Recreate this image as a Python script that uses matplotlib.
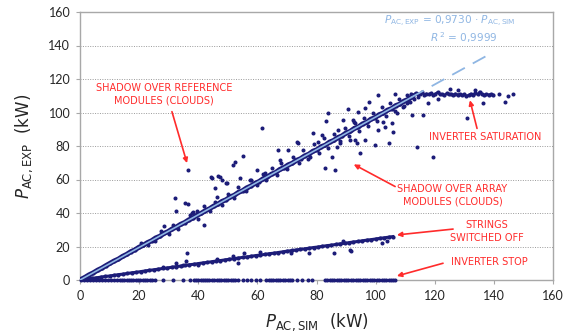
import matplotlib.pyplot as plt

plt.rcParams['mathtext.fontset'] = 'dejavusans'

# main band of points (normal operation), y ~ 0.973 x
main_pts = [(0.5, 0.5), (1.8, 1.7), (3.0, 3.0), (4.5, 4.3), (6.0, 5.9), (7.4, 7.1), (8.8, 8.6),
            (10.2, 10.0), (11.5, 11.3), (13.0, 12.5), (14.4, 14.1), (15.8, 15.3), (17.2, 16.9),
            (18.6, 18.0), (20.0, 19.6), (21.4, 20.7), (22.8, 22.3), (24.2, 23.4), (25.6, 25.1),
            (27.0, 26.1), (28.4, 27.8), (29.8, 28.9), (31.2, 30.5), (32.6, 31.6), (34.0, 33.2),
            (35.4, 34.3), (36.8, 35.9), (38.2, 37.0), (39.6, 38.7), (41.0, 39.8), (42.4, 41.4),
            (43.8, 42.5), (45.2, 44.1), (46.6, 45.2), (48.0, 46.9), (49.4, 47.9), (50.8, 49.6),
            (52.2, 50.6), (53.6, 52.3), (55.0, 53.3), (56.4, 55.0), (57.8, 56.1), (59.2, 57.7),
            (60.6, 58.8), (62.0, 60.5), (63.4, 61.5), (64.8, 63.2), (66.2, 64.2), (67.6, 66.0),
            (69.0, 67.0), (70.4, 68.7), (71.8, 69.7), (73.2, 71.4), (74.6, 72.4), (76.0, 74.1),
            (77.4, 75.1), (78.8, 76.9), (80.2, 77.8), (81.6, 79.6), (83.0, 80.5), (84.4, 82.3),
            (85.8, 83.3), (87.2, 85.0), (88.6, 86.0), (90.0, 87.8), (91.4, 88.7), (92.8, 90.5),
            (94.2, 91.4), (95.6, 93.2), (97.0, 94.1), (98.4, 96.0), (99.8, 96.9), (101.2, 98.7),
            (102.6, 99.6), (104.0, 101.4), (105.4, 102.3), (106.8, 104.1), (108.2, 105.0),
            (109.6, 106.8), (111.0, 107.8), (112.4, 109.5)]

# inverter saturation
sat_pts = [(112.0, 111.0), (112.8, 110.5), (113.5, 111.6), (114.2, 110.8), (115.0, 111.2),
           (115.7, 112.0), (116.4, 110.6), (117.2, 111.3), (118.0, 110.9), (118.7, 111.5),
           (119.5, 110.4), (120.2, 111.2), (121.0, 112.2), (121.7, 110.8), (122.5, 111.0),
           (123.2, 110.3), (124.0, 111.4), (124.7, 110.9), (125.5, 111.1), (126.2, 110.5),
           (127.0, 111.3), (127.8, 110.7), (128.5, 111.0), (129.2, 110.2), (130.0, 110.8),
           (130.7, 109.9), (131.5, 110.5), (132.2, 111.2), (133.0, 110.6), (133.7, 111.8),
           (134.5, 110.9), (135.2, 112.4), (136.0, 111.1), (136.7, 110.4), (137.5, 111.0),
           (138.2, 110.7), (139.0, 110.9), (139.8, 110.6)]
sat_loose = [(141.7, 111.0), (144.8, 110.1), (146.5, 111.0), (143.8, 106.4), (128.0, 113.2),
             (133.5, 113.5), (125.2, 114.0)]

# scattered points (clouds)
cloud_pts = [(36.5, 65.5), (32.0, 49.0), (32.5, 41.0), (35.5, 46.0), (36.5, 45.5), (28.4, 32.2),
             (44.3, 61.5), (46.7, 62.0), (48.0, 60.0), (49.4, 58.0), (45.7, 55.0), (46.3, 49.5),
             (42.0, 32.8), (38.2, 40.6), (39.5, 41.2), (37.2, 38.8), (61.5, 90.5), (83.9, 99.7),
             (90.7, 102.0), (83.2, 95.0), (89.0, 95.5), (92.7, 94.3), (73.4, 82.4), (73.8, 81.8),
             (67.0, 77.6), (70.4, 77.6), (55.1, 74.0), (52.4, 70.4), (51.8, 68.7), (47.4, 61.5),
             (44.7, 61.0), (85.3, 73.4), (82.9, 66.9), (86.3, 65.7), (80.5, 82.4), (81.9, 86.6),
             (78.8, 87.8), (87.3, 89.5), (91.3, 83.6), (93.7, 81.8), (94.7, 75.8), (59.9, 65.7),
             (62.6, 63.9), (57.5, 59.7), (54.1, 60.9), (49.7, 57.9), (68.3, 67.5), (77.8, 73.4),
             (67.7, 71.6), (86.9, 79.4), (88.0, 81.8), (100.8, 110.4), (106.6, 111.0),
             (97.8, 106.3), (96.4, 102.7), (94.0, 100.3), (92.4, 95.5), (93.0, 83.6), (96.4, 83.6),
             (99.8, 80.6), (104.5, 81.8), (103.2, 91.3), (105.5, 93.7), (100.8, 89.5),
             (102.5, 94.3), (112.3, 98.5), (114.0, 79.4), (119.4, 73.4), (116.0, 98.5),
             (117.7, 105.7), (121.0, 108.0), (131.0, 96.7), (136.3, 105.7), (109.3, 103.3),
             (110.6, 105.7), (107.2, 99.7), (105.9, 88.4), (20.5, 21.8), (23.0, 21.0),
             (25.5, 23.5), (27.5, 29.0), (30.0, 27.5), (31.5, 33.0), (33.0, 30.5), (38.0, 40.0),
             (40.0, 36.5), (42.0, 44.0), (44.0, 41.0), (45.5, 46.5), (48.0, 45.0), (50.0, 51.5),
             (52.0, 49.0), (53.5, 55.5), (56.0, 53.0), (58.0, 60.0), (60.0, 57.0), (62.0, 63.5),
             (63.0, 59.5), (65.0, 67.0), (66.5, 62.5), (68.0, 70.0), (70.0, 66.0), (72.0, 73.5),
             (74.0, 70.0), (75.5, 77.5), (77.0, 72.5), (79.0, 81.0), (81.0, 76.0), (82.5, 84.5),
             (84.0, 79.0), (86.0, 87.0), (88.0, 83.0), (89.5, 91.0), (91.0, 86.0), (93.0, 93.5),
             (94.5, 89.0), (96.0, 96.5), (97.5, 92.0), (99.0, 100.0), (100.5, 95.0),
             (102.0, 103.0), (103.5, 98.0), (105.0, 105.5), (106.5, 101.0), (108.0, 108.0),
             (109.5, 104.0), (110.5, 110.5), (111.5, 106.0), (113.0, 108.0), (114.5, 109.5)]

# strings switched off
strings_pts = [(1, 0.3), (2.5, 0.6), (4, 1.0), (5.5, 1.3), (7, 1.7), (8.5, 2.1), (10, 2.4),
               (11.5, 2.8), (13, 3.2), (14.5, 3.5), (16, 3.9), (17.5, 4.3), (19, 4.6), (20.5, 5.0),
               (22, 5.4), (23.5, 5.8), (25, 6.1), (26.5, 6.5), (28, 6.9), (29.5, 7.2), (31, 7.6),
               (32.5, 8.0), (34, 8.3), (35.5, 8.7), (37, 9.1), (38.5, 9.4), (40, 9.8), (41.5, 10.2),
               (43, 10.5), (44.5, 10.9), (46, 11.3), (47.5, 11.6), (49, 12.0), (50.5, 12.4),
               (52, 12.7), (53.5, 13.1), (55, 13.5), (56.5, 13.8), (58, 14.2), (59.5, 14.6),
               (61, 14.9), (62.5, 15.3), (64, 15.7), (65.5, 16.0), (67, 16.4), (68.5, 16.8),
               (70, 17.2), (71.5, 17.5), (73, 17.9), (74.5, 18.3), (76, 18.6), (77.5, 19.0),
               (79, 19.4), (80.5, 19.7), (82, 20.1), (83.5, 20.5), (85, 20.8), (86.5, 21.2),
               (88, 21.6), (89.5, 21.9), (91, 22.3), (92.5, 22.7), (94, 23.0), (95.5, 23.4),
               (97, 23.8), (98.5, 24.1), (100, 24.5), (101.5, 24.9), (103, 25.2), (104.5, 25.6),
               (105.8, 25.9)]
strings_loose = [(36.2, 16.1), (35.8, 11.4), (32.5, 10.2), (34.9, 9.0), (28.1, 7.8), (51.8, 14.3),
                 (55.5, 16.1), (53.5, 10.2), (60.9, 16.7), (71.4, 16.1), (77.5, 16.1), (71.7, 17.9),
                 (85.9, 16.1), (91.7, 17.3), (89.0, 23.3), (102.2, 22.1), (103.9, 23.3),
                 (46.3, 12.5), (39.9, 9.0), (91.3, 17.9)]

# inverter stop (P_exp = 0)
stop_x = [0.5, 1.5, 2.5, 3.5, 4.5, 5.5, 6.5, 7.5, 8.5, 9.5, 10.5, 11.5, 12.5, 13.5, 14.3, 15, 15.8,
          16.5, 17.3, 18, 18.8, 19.6, 20.4, 21.2, 22, 22.8, 23.6, 24.5, 25.5, 28, 31.5, 34.8, 37.2,
          38.5, 39.3, 40, 40.8, 41.5, 42.3, 43, 43.8, 44.6, 45.4, 46.2, 47, 47.8, 48.6, 49.4, 50.2,
          51, 51.8, 52.6, 53.4, 55, 56.5, 58, 59.5, 61, 63, 63.8, 64.6, 65.4, 66.2, 67, 67.8, 68.6,
          69.4, 70.2, 71, 71.8, 73.5, 75, 77, 78.5, 82.8, 83.6, 84.4, 85.2, 86, 86.8, 87.6, 88.4,
          89.2, 90, 90.8, 91.6, 92.4, 93.2, 94, 94.8, 95.6, 96.4, 97.2, 98, 98.8, 99.6, 100.4,
          101.2, 102, 102.8, 103.6, 104.4, 105.2, 106, 106.6]

fit_slope = 0.9730
fit_solid_x = [0, 112]
fit_dash_x = [112, 138]

navy = '#1c1c78'
light = '#8fb6e3'
red = '#ff2b2b'

fig = plt.figure(figsize=(5.7, 3.35), dpi=100)
ax = fig.add_axes([80 / 570, 55 / 335, 473 / 570, 268 / 335])

mx, my = zip(*main_pts)
ax.plot(mx, my, '-o', color=navy, lw=3.6, ms=2.0, zorder=3)
sx, sy = zip(*sat_pts)
ax.plot(sx, sy, '-o', color=navy, lw=1.6, ms=2.0, zorder=3)
for pts in (sat_loose, cloud_pts, strings_loose):
    px, py = zip(*pts)
    ax.plot(px, py, 'o', color=navy, ms=1.9, lw=0, zorder=3)
tx, ty = zip(*strings_pts)
ax.plot(tx, ty, '-o', color=navy, lw=2.2, ms=2.0, zorder=3)
ax.plot(stop_x, [0] * len(stop_x), 'o', color=navy, ms=1.9, lw=0, zorder=3, clip_on=False)

ax.plot(fit_solid_x, [fit_slope * v for v in fit_solid_x], color=light, lw=1.2, zorder=4)
ax.plot(fit_dash_x, [fit_slope * v for v in fit_dash_x], color=light, lw=1.3,
        dashes=(8, 5), zorder=4)

ax.set_xlim(0, 160)
ax.set_ylim(0, 160)
ax.set_xticks(range(0, 161, 20))
ax.set_yticks(range(0, 161, 20))
ax.yaxis.grid(True, linestyle=(0, (1, 1.5)), color='#9a9a9a', lw=0.7)
ax.set_axisbelow(True)
for s in ax.spines.values():
    s.set_color('#a8a8a8')
    s.set_linewidth(1.0)
ax.tick_params(length=3, color='#a8a8a8', labelsize=9, labelcolor='#262626', pad=4)
for lab in ax.get_xticklabels() + ax.get_yticklabels():
    lab.set_family('Lato')

ax.set_ylabel(r'$P_{\mathrm{AC,EXP}}$  (kW)', fontsize=12, color='#262626', va='center')
ax.yaxis.set_label_coords(-0.118, 0.5)
ax.set_xlabel(r'$P_{\mathrm{AC,SIM}}$  (kW)', fontsize=12, color='#262626', va='center')
ax.xaxis.set_label_coords(0.5, -0.157)

ax.text(125.2, 154.3, r'$P_{\mathrm{AC,EXP}}$ = 0,9730 · $P_{\mathrm{AC,SIM}}$', color=light,
        fontsize=7.6, ha='center', va='center')
ax.text(130, 144.6, r'$R^{\,2}$ = 0,9999', color=light, fontsize=7.6, ha='center', va='center')

# annotations
afont = dict(color=red, fontsize=7, ha='center', va='center', linespacing=1.3)
aprops = dict(arrowstyle='-|>', color=red, lw=1.2, mutation_scale=7, shrinkA=0, shrinkB=0)

ax.text(28.5, 111, 'SHADOW OVER REFERENCE\nMODULES (CLOUDS)', **afont)
ax.annotate('', xy=(36.2, 69.8), xytext=(31.1, 100.5), arrowprops=aprops)

ax.text(137, 85.5, 'INVERTER SATURATION', **afont)
ax.annotate('', xy=(131.9, 107.3), xytext=(134.3, 90.5), arrowprops=aprops)

ax.text(126, 50.5, 'SHADOW OVER ARRAY\nMODULES (CLOUDS)', **afont)
ax.annotate('', xy=(92.6, 69.0), xytext=(106.6, 55.8), arrowprops=aprops)

ax.text(137.5, 29, 'STRINGS\nSWITCHED OFF', **afont)
ax.annotate('', xy=(107.2, 26.9), xytext=(126.2, 30.4), arrowprops=aprops)

ax.text(138.5, 10.8, 'INVERTER STOP', **afont)
ax.annotate('', xy=(107.2, 2.4), xytext=(122.8, 10.0), arrowprops=aprops)

fig.savefig('out.png', dpi=100)
